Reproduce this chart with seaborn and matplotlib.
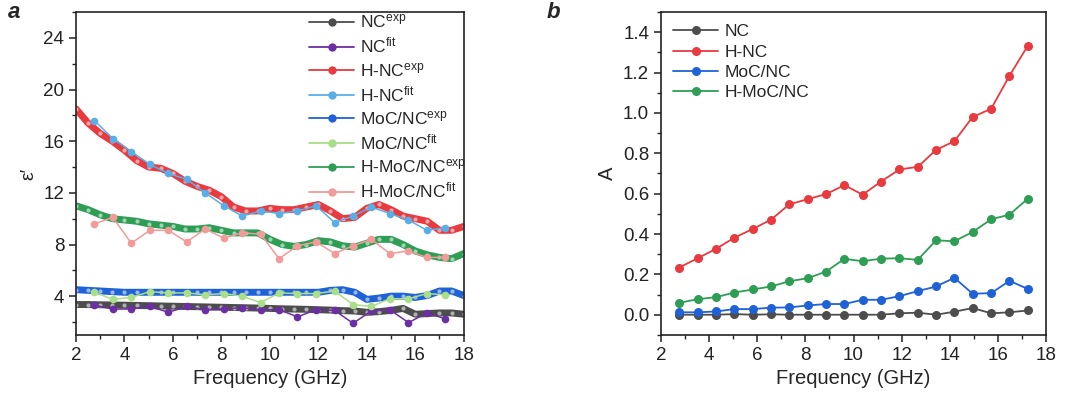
import seaborn as sns
import matplotlib.pyplot as plt
from matplotlib.ticker import MultipleLocator
from matplotlib.colors import to_rgb

sns.set_style("white")
plt.rcParams['font.family'] = ['Liberation Sans', 'DejaVu Sans']
plt.rcParams['mathtext.fontset'] = 'custom'
plt.rcParams['mathtext.rm'] = 'Liberation Sans'
plt.rcParams['mathtext.default'] = 'regular'

# ---- panel a data ----
freq_exp = [2.0, 2.5, 3.0, 3.5, 4.0, 4.5, 5.0, 5.5, 6.0, 6.5, 7.0, 7.5, 8.0, 8.5, 9.0, 9.5,
            10.0, 10.5, 11.0, 11.5, 12.0, 12.5, 13.0, 13.5, 14.0, 14.5, 15.0, 15.5, 16.0,
            16.5, 17.0, 17.5, 18.0]
freq_fit = [2.76, 3.52, 4.28, 5.05, 5.81, 6.57, 7.33, 8.10, 8.86, 9.62, 10.38, 11.14,
            11.91, 12.67, 13.43, 14.19, 14.95, 15.72, 16.48, 17.24]

nc_exp = [3.35, 3.35, 3.33, 3.32, 3.3, 3.28, 3.26, 3.24, 3.22, 3.2, 3.18, 3.16, 3.14, 3.12,
          3.1, 3.08, 3.05, 3.02, 3.0, 2.98, 2.95, 2.92, 2.88, 2.85, 2.75, 2.8, 2.9, 3.05,
          2.6, 2.65, 2.7, 2.7, 2.6]
nc_fit = [3.3, 3.0, 3.0, 3.2, 2.75, 3.2, 2.95, 3.0, 3.1, 2.95, 2.95, 2.4, 2.95, 2.9, 1.9,
          2.85, 2.95, 1.95, 2.7, 2.25]
hnc_exp = [18.5, 17.4, 16.6, 16.0, 15.3, 14.5, 14.0, 13.9, 13.5, 12.9, 12.5, 12.2, 11.7,
           10.9, 10.6, 10.6, 10.8, 10.7, 10.7, 10.9, 11.1, 10.6, 10.0, 10.1, 10.8, 11.1,
           10.7, 10.2, 10.0, 9.8, 9.1, 9.1, 9.4]
hnc_fit = [17.6, 16.2, 15.2, 14.2, 13.5, 13.05, 12.0, 11.0, 10.2, 10.6, 10.4, 10.6, 11.0,
           9.7, 10.2, 10.9, 10.4, 9.9, 9.1, 9.3]
moc_exp = [4.5, 4.45, 4.4, 4.35, 4.3, 4.3, 4.3, 4.3, 4.3, 4.3, 4.3, 4.3, 4.3, 4.3, 4.3, 4.3,
           4.3, 4.3, 4.3, 4.3, 4.3, 4.45, 4.5, 4.3, 3.75, 3.85, 4.0, 4.0, 3.9, 4.05, 4.4,
           4.4, 4.05]
moc_fit = [4.3, 3.75, 3.9, 4.35, 4.25, 4.25, 4.1, 4.2, 4.0, 3.5, 4.25, 4.2, 4.2, 4.4, 3.35,
           3.2, 3.8, 3.8, 4.2, 4.1]
hmoc_exp = [11.0, 10.7, 10.3, 10.0, 9.9, 9.8, 9.6, 9.5, 9.4, 9.2, 9.2, 9.3, 9.1, 8.9, 8.9,
            8.9, 8.4, 8.0, 7.85, 8.0, 8.3, 8.2, 7.9, 7.8, 8.1, 8.4, 8.4, 8.0, 7.5, 7.2,
            7.0, 6.9, 7.3]
hmoc_fit = [9.6, 10.1, 8.1, 9.1, 9.1, 8.2, 9.2, 8.5, 8.9, 8.8, 6.9, 7.9, 8.2, 7.3, 7.9,
            8.4, 7.3, 7.5, 7.0, 7.0]

# ---- panel b data ----
a_nc = [0.0, 0.0, 0.0, 0.003, 0.0, 0.002, 0.0, 0.0, 0.0, 0.0, 0.0, 0.0, 0.007, 0.01, 0.0,
        0.015, 0.033, 0.007, 0.012, 0.021]
a_hnc = [0.234, 0.28, 0.326, 0.382, 0.425, 0.471, 0.547, 0.573, 0.598, 0.642, 0.595, 0.66,
         0.72, 0.733, 0.817, 0.86, 0.98, 1.021, 1.184, 1.333]
a_moc = [0.012, 0.012, 0.016, 0.028, 0.028, 0.035, 0.036, 0.046, 0.053, 0.053, 0.074,
         0.074, 0.092, 0.117, 0.14, 0.183, 0.104, 0.107, 0.168, 0.128]
a_hmoc = [0.059, 0.077, 0.087, 0.11, 0.125, 0.14, 0.166, 0.181, 0.214, 0.277, 0.265, 0.278,
          0.28, 0.272, 0.369, 0.364, 0.41, 0.473, 0.496, 0.575]

c_gray, c_purple = '#4d4d4d', '#6b2fa3'
c_red, c_lblue = '#e83a3f', '#5aaee8'
c_blue, c_lgreen = '#1f62d8', '#a8df88'
c_green, c_pink = '#2e9e55', '#f39a9a'


def lighter(c, f=0.55):
    r, g, b = to_rgb(c)
    return (r + (1 - r) * f, g + (1 - g) * f, b + (1 - b) * f)


fig = plt.figure(figsize=(10.86, 4.03), dpi=100)
ax1 = fig.add_axes([0.070, 0.169, 0.357, 0.801])
ax2 = fig.add_axes([0.6087, 0.169, 0.3545, 0.801])

series_a = [
    (nc_exp, 'exp', c_gray, r'NC$^{exp}$'),
    (nc_fit, 'fit', c_purple, r'NC$^{fit}$'),
    (hnc_exp, 'exp', c_red, r'H-NC$^{exp}$'),
    (hnc_fit, 'fit', c_lblue, r'H-NC$^{fit}$'),
    (moc_exp, 'exp', c_blue, r'MoC/NC$^{exp}$'),
    (moc_fit, 'fit', c_lgreen, r'MoC/NC$^{fit}$'),
    (hmoc_exp, 'exp', c_green, r'H-MoC/NC$^{exp}$'),
    (hmoc_fit, 'fit', c_pink, r'H-MoC/NC$^{fit}$'),
]
handles = []
for vals, kind, col, lab in series_a:
    if kind == 'exp':
        sns.lineplot(x=freq_exp, y=vals, ax=ax1, color=col, lw=5, marker='o', ms=3,
                     mfc=lighter(col), mec='none', zorder=2)
    else:
        sns.lineplot(x=freq_fit, y=vals, ax=ax1, color=col, lw=1.1, marker='o', ms=5.5,
                     mfc=col, mec='none', zorder=3)
    h, = ax1.plot([], [], color=col, lw=1.3, marker='o', ms=6, mec='none')
    handles.append((h, lab))

ax1.legend([h for h, _ in handles], [l for _, l in handles], loc='upper right',
           frameon=False, fontsize=12.5, handlelength=2.6, labelspacing=0.3,
           borderaxespad=0.1, handletextpad=0.35, bbox_to_anchor=(1.03, 1.025))
ax1.set_xlim(2, 18)
ax1.set_ylim(1, 26)
ax1.xaxis.set_major_locator(MultipleLocator(2))
ax1.xaxis.set_minor_locator(MultipleLocator(1))
ax1.set_yticks([4, 8, 12, 16, 20, 24])
ax1.yaxis.set_minor_locator(MultipleLocator(2))
ax1.set_ylabel("ε′", fontsize=14, labelpad=4)
ax1.set_xlabel("Frequency (GHz)", fontsize=14.5)

series_b = [(a_nc, c_gray, 'NC'), (a_hnc, c_red, 'H-NC'),
            (a_moc, c_blue, 'MoC/NC'), (a_hmoc, c_green, 'H-MoC/NC')]
for vals, col, lab in series_b:
    sns.lineplot(x=freq_fit, y=vals, ax=ax2, color=col, lw=1.3, marker='o', ms=6.5,
                 mec='none', label=lab)
ax2.legend(loc='upper left', frameon=False, fontsize=12.5, handlelength=2.6,
           labelspacing=0.3, borderaxespad=0.3, handletextpad=0.35)
ax2.set_xlim(2, 18)
ax2.set_ylim(-0.1, 1.5)
ax2.xaxis.set_major_locator(MultipleLocator(2))
ax2.xaxis.set_minor_locator(MultipleLocator(1))
ax2.set_yticks([0.0, 0.2, 0.4, 0.6, 0.8, 1.0, 1.2, 1.4])
ax2.yaxis.set_minor_locator(MultipleLocator(0.1))
ax2.set_ylabel("A", fontsize=14.5)
ax2.set_xlabel("Frequency (GHz)", fontsize=14.5)

for ax in (ax1, ax2):
    for s in ax.spines.values():
        s.set_color('#222222')
        s.set_linewidth(1.2)
    ax.tick_params(which='major', direction='out', length=5, width=1.1, labelsize=13.5,
                   bottom=True, left=True, top=False, right=False, colors='#222222')
    ax.tick_params(which='minor', direction='out', length=3, width=1.0,
                   bottom=True, left=True, top=False, right=False)

fig.text(0.007, 0.955, 'a', fontsize=16, fontweight='bold', fontstyle='italic')
fig.text(0.503, 0.955, 'b', fontsize=16, fontweight='bold', fontstyle='italic')

fig.savefig('out.png', dpi=100)
